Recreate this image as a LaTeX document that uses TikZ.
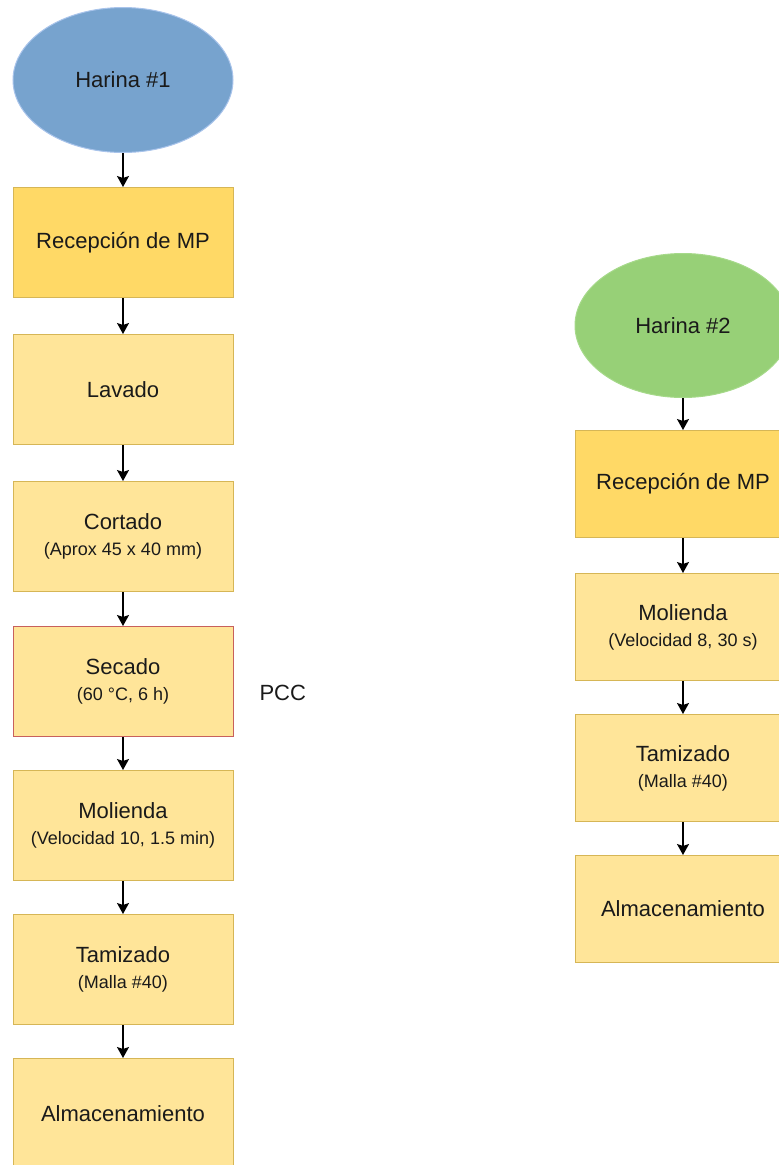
\documentclass[tikz,border=0pt]{standalone}
\usepackage{fontspec}
\setmainfont{Liberation Sans}
\usetikzlibrary{shapes.geometric,arrows.meta}

\definecolor{stepfill}{HTML}{FFE599}
\definecolor{inputfill}{HTML}{FFD966}
\definecolor{stepline}{HTML}{D6B656}
\definecolor{bluefill}{HTML}{77A3CE}
\definecolor{blueline}{HTML}{A9C4EB}
\definecolor{greenfill}{HTML}{97D077}
\definecolor{greenline}{HTML}{A6D98A}
\definecolor{critline}{HTML}{C8605C}
\definecolor{txt}{HTML}{1A1A1A}

\tikzset{
  main/.style={font=\fontsize{22}{27}\selectfont, text=txt},
  stepbox/.style={main, rectangle, draw=stepline, fill=stepfill, line width=1pt,
    minimum width=220pt, minimum height=110pt, anchor=north, align=center, inner sep=0pt},
  stepboxr/.style={stepbox, minimum width=216pt, minimum height=107pt},
  inbox/.style={fill=inputfill},
  critbox/.style={draw=critline},
  source/.style={main, ellipse, line width=1pt, inner sep=0pt, anchor=north},
  flow/.style={line width=1.4pt, -{Stealth[length=11pt, width=12pt, inset=2pt]}},
}
\newcommand{\sub}[1]{\\[-1pt]{\fontsize{18}{22}\selectfont #1}}

\begin{document}
\begin{tikzpicture}[x=1pt, y=-1pt]
\clip (0,0) rectangle (779,1165);

% first line: Harina #1
\node[source, fill=bluefill, draw=blueline, minimum width=220pt, minimum height=145pt] (h1) at (123,7) {Harina \#1};
\node[stepbox, inbox] (r1) at (123,187) {Recepción de MP};
\node[stepbox] (l1) at (123,334) {Lavado};
\node[stepbox] (c1) at (123,481) {Cortado\sub{(Aprox 45 x 40 mm)}};
\node[stepbox, critbox] (s1) at (123,626) {Secado\sub{(60 °C, 6 h)}};
\node[stepbox] (m1) at (123,770) {Molienda\sub{(Velocidad 10, 1.5 min)}};
\node[stepbox] (t1) at (123,914) {Tamizado\sub{(Malla \#40)}};
\node[stepbox] (a1) at (123,1058) {Almacenamiento};
\node[main, anchor=west] (pcc) at (256,693) {PCC};

\draw[flow] (h1) -- (r1);
\draw[flow] (r1) -- (l1);
\draw[flow] (l1) -- (c1);
\draw[flow] (c1) -- (s1);
\draw[flow] (s1) -- (m1);
\draw[flow] (m1) -- (t1);
\draw[flow] (t1) -- (a1);

% second line: Harina #2
\node[source, fill=greenfill, draw=greenline, minimum width=216pt, minimum height=144pt] (h2) at (683,253) {Harina \#2};
\node[stepboxr, inbox] (r2) at (683,430) {Recepción de MP};
\node[stepboxr] (m2) at (683,573) {Molienda\sub{(Velocidad 8, 30 s)}};
\node[stepboxr] (t2) at (683,714) {Tamizado\sub{(Malla \#40)}};
\node[stepboxr] (a2) at (683,855) {Almacenamiento};

\draw[flow] (h2) -- (r2);
\draw[flow] (r2) -- (m2);
\draw[flow] (m2) -- (t2);
\draw[flow] (t2) -- (a2);
\end{tikzpicture}
\end{document}
